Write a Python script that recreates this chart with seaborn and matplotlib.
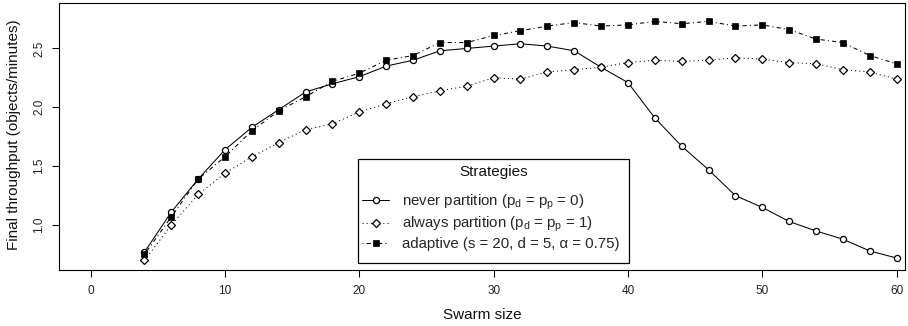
import numpy as np
import pandas as pd
import matplotlib
matplotlib.use("Agg")
import matplotlib.pyplot as plt
from matplotlib.patches import Rectangle
import seaborn as sns

# ---- data ----
swarm_size = [4, 6, 8, 10, 12, 14, 16, 18, 20, 22, 24, 26, 28, 30, 32, 34, 36, 38, 40,
              42, 44, 46, 48, 50, 52, 54, 56, 58, 60]
never_partition = [0.77, 1.11, 1.39, 1.64, 1.83, 1.98, 2.13, 2.20, 2.26, 2.35, 2.40, 2.48,
                   2.50, 2.52, 2.54, 2.52, 2.48, 2.34, 2.21, 1.91, 1.67, 1.47, 1.25, 1.15,
                   1.03, 0.95, 0.88, 0.78, 0.72]
always_partition = [0.70, 1.00, 1.26, 1.44, 1.58, 1.70, 1.81, 1.86, 1.96, 2.03, 2.09, 2.14,
                    2.18, 2.25, 2.24, 2.30, 2.32, 2.34, 2.38, 2.40, 2.39, 2.40, 2.42, 2.41,
                    2.38, 2.37, 2.32, 2.30, 2.24]
adaptive = [0.75, 1.07, 1.39, 1.58, 1.80, 1.97, 2.09, 2.22, 2.29, 2.40, 2.44, 2.55,
            2.55, 2.61, 2.65, 2.69, 2.72, 2.69, 2.70, 2.73, 2.71, 2.73, 2.69, 2.70,
            2.66, 2.58, 2.55, 2.44, 2.37]
labels = ["never partition (p$_\\mathrm{d}$ = p$_\\mathrm{p}$ = 0)",
          "always partition (p$_\\mathrm{d}$ = p$_\\mathrm{p}$ = 1)",
          "adaptive (s = 20, d = 5, \u03b1 = 0.75)"]
legend_title = "Strategies"
x_ticks = [0, 10, 20, 30, 40, 50, 60]
y_ticks = [1.0, 1.5, 2.0, 2.5]

sns.set_style("ticks")
plt.rcParams["font.family"] = ["Liberation Sans", "DejaVu Sans"]
plt.rcParams["mathtext.fontset"] = "custom"
plt.rcParams["mathtext.rm"] = "Liberation Sans"
plt.rcParams["mathtext.it"] = "Liberation Sans:italic"
plt.rcParams["mathtext.bf"] = "Liberation Sans:bold"

df = pd.DataFrame({"size": swarm_size, "never": never_partition,
                   "always": always_partition, "adaptive": adaptive})

W, H = 908, 326
fig = plt.figure(figsize=(W / 100, H / 100), dpi=100)
ax = fig.add_axes([59.3 / W, (H - 270) / H, (905 - 59.3) / W, (270 - 3) / H])

lw = 0.75
sns.lineplot(data=df, x="size", y="never", ax=ax, color="black", lw=lw,
             linestyle="-", marker="o", markersize=4.4, markerfacecolor="white",
             markeredgecolor="black", markeredgewidth=0.9, label=labels[0],
             errorbar=None)
sns.lineplot(data=df, x="size", y="always", ax=ax, color="black", lw=lw,
             linestyle=(0, (1, 3)), marker="D", markersize=4.2, markerfacecolor="white",
             markeredgecolor="black", markeredgewidth=0.9, label=labels[1],
             errorbar=None)
sns.lineplot(data=df, x="size", y="adaptive", ax=ax, color="black", lw=lw,
             linestyle=(0, (1, 3, 4, 3)), marker="s", markersize=3.8,
             markerfacecolor="black", markeredgecolor="black", markeredgewidth=0.5,
             label=labels[2], errorbar=None)

ax.set_xlim(-2.34, 60.63)
ax.set_ylim(0.618, 2.886)
ax.set_xticks(x_ticks)
ax.set_xticklabels([str(t) for t in x_ticks])
ax.set_yticks(y_ticks)
ax.set_yticklabels([f"{t:.1f}" for t in y_ticks], rotation=90, va="center")
ax.tick_params(axis="both", direction="out", length=5, width=0.75, colors="black",
               labelsize=8.5, labelcolor="#222222")
ax.tick_params(axis="x", pad=5.5)
ax.tick_params(axis="y", pad=5)
for s in ax.spines.values():
    s.set_color("black")
    s.set_linewidth(0.8)

ax.set_xlabel("Swarm size", fontsize=11, color="#111111")
ax.set_ylabel("Final throughput (objects/minutes)", fontsize=11, color="#111111")
ax.xaxis.set_label_coords(0.5, -0.142)
ax.yaxis.set_label_coords(-0.0455, 1 - (135 - 3) / 267)

# legend frame (R style box) in axes-fraction coordinates
fx0 = (358.3 - 59.3) / 845.7
fx1 = (628.7 - 59.3) / 845.7
fy0 = (270 - 263.0) / 267
fy1 = (270 - 159.3) / 267
ax.add_patch(Rectangle((fx0, fy0), fx1 - fx0, fy1 - fy0, transform=ax.transAxes,
                       fill=False, edgecolor="black", linewidth=0.9, zorder=5))
ax.text((fx0 + fx1) / 2, (270 - 172) / 267, legend_title, transform=ax.transAxes,
        ha="center", va="center", fontsize=11, color="#111111", zorder=6)

leg = ax.legend(loc="upper left",
                bbox_to_anchor=((361.7 - 59.3) / 845.7, (270 - 192.6) / 267),
                borderaxespad=0, borderpad=0, frameon=False, fontsize=10.8,
                handlelength=1.85, handletextpad=0.87,
                labelspacing=0.2, numpoints=1)

fig.savefig("out.png", dpi=100)
